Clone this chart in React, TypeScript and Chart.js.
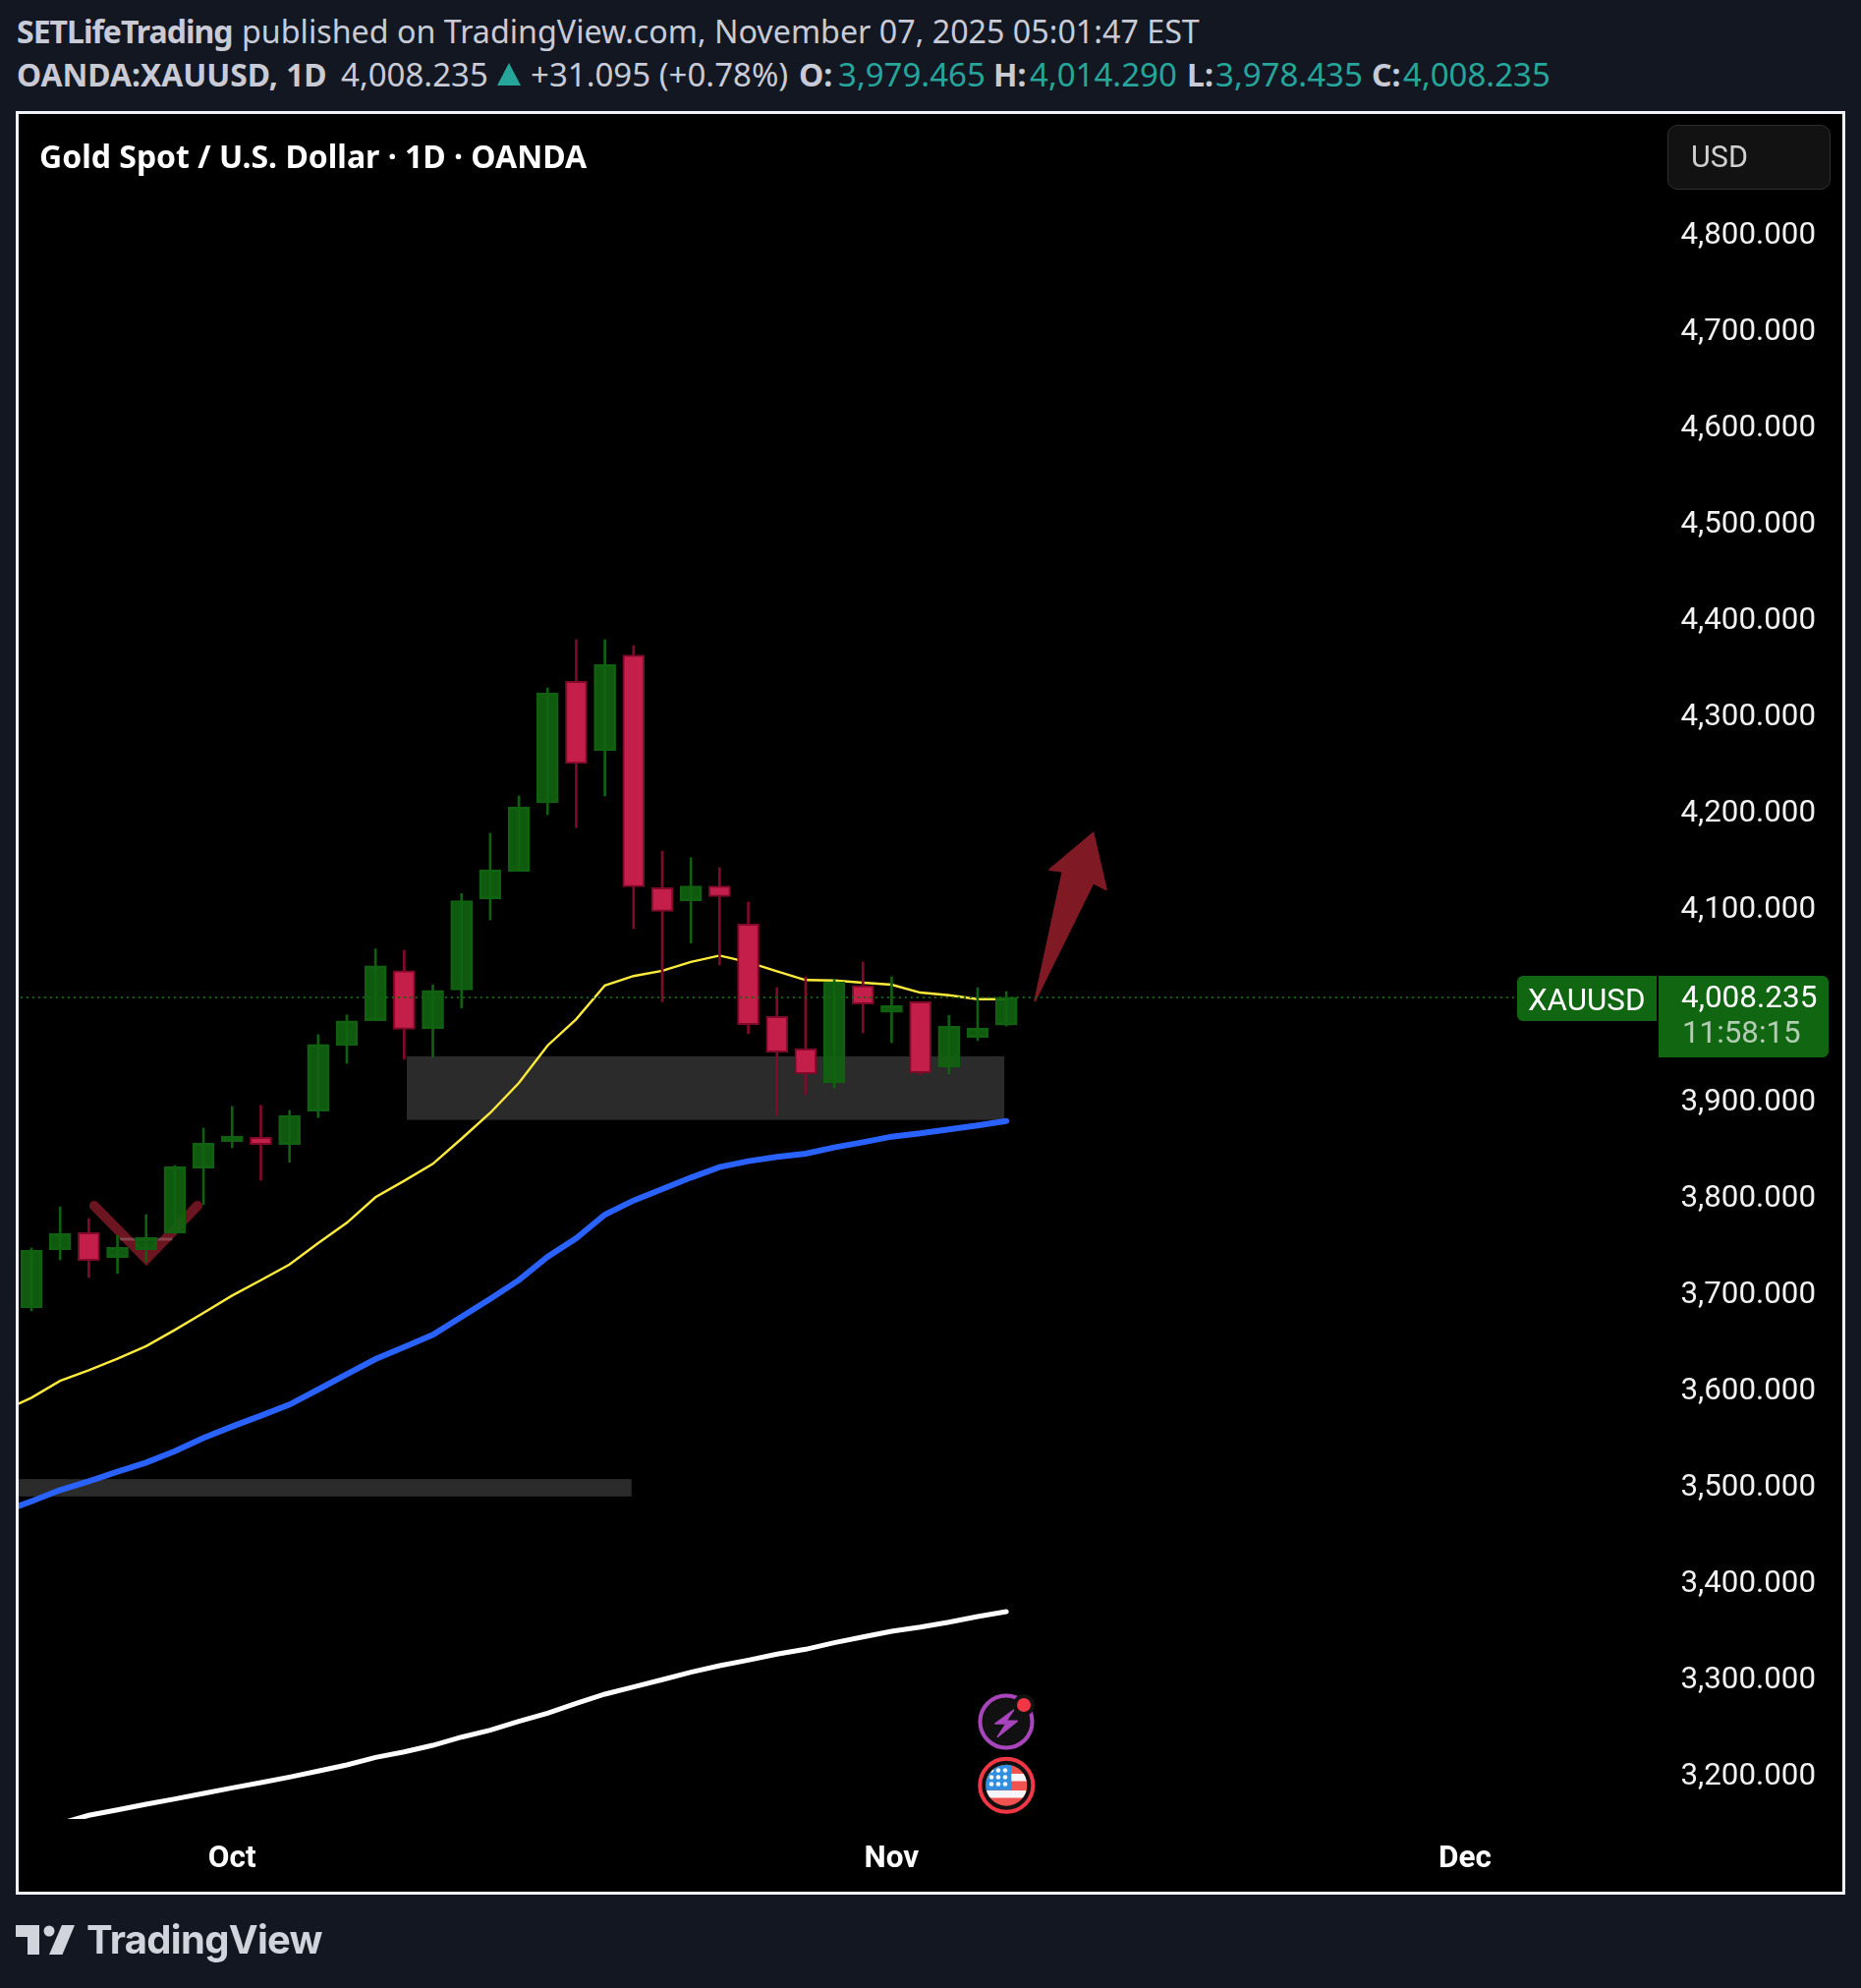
import { useEffect, useRef } from "react"
import { Chart, registerables } from "chart.js"

Chart.register(...registerables)

// candles, index 0 .. 34 (trading days, Oct 1 = 7, Nov 3 = 30, Dec 1 = 50)
const opens = [3685.7, 3746.3, 3764, 3738.1, 3746.3, 3763.6, 3831, 3858.5, 3863, 3855.5, 3890.1, 3958.2, 3984.1, 4035.9, 3975.7, 4015.8, 4110.6, 4139, 4210.4, 4336.5, 4264.3, 4363.8, 4122.2, 4108.4, 4124, 4084.3, 3988.4, 3954.8, 3919.4, 4020.4, 3992.8, 4003.7, 3935.7, 3966.7, 3979.465]
const highs = [3748, 3790.8, 3778.6, 3760.9, 3782.7, 3833.7, 3872.4, 3895, 3896, 3890.8, 3969.5, 3990, 4058.5, 4057, 4021.3, 4116, 4178.7, 4217.3, 4329.6, 4379.5, 4379.5, 4373.3, 4160.1, 4153.2, 4143, 4107.2, 4018.3, 4029.6, 4026.8, 4044.9, 4029.6, 4003.7, 3989.4, 4018.3, 4014.29]
const lows = [3682.7, 3735.7, 3717.3, 3721.4, 3733.7, 3763, 3792.9, 3852, 3818.4, 3837, 3883.5, 3939.7, 3984, 3944, 3946.2, 3997.2, 4088.7, 4139, 4198, 4184.5, 4217.3, 4079.6, 4003.8, 4064.6, 4042, 3970.5, 3885.7, 3907.1, 3914.3, 3971.4, 3961.2, 3927.5, 3928.6, 3963.3, 3978.435]
const closes = [3745.6, 3762.9, 3735, 3748.6, 3758.8, 3832.3, 3856.8, 3864.3, 3855.4, 3885.7, 3959.3, 3983.8, 4041, 3975, 4015.5, 4108.7, 4140.8, 4206, 4324.5, 4251.2, 4354, 4123, 4097.4, 4124, 4112.8, 3980, 3951.3, 3928.9, 4024.5, 4001.3, 3999.6, 3929.9, 3978.2, 3976.2, 4008.235]

// moving averages, index -1 .. 34
const fastMa = [3578.6, 3592.5, 3610, 3621, 3633, 3646, 3662.9, 3680.6, 3698.6, 3714.6, 3730.9, 3753, 3774.2, 3800.7, 3817.7, 3835.4, 3861.5, 3888.3, 3919.3, 3958.2, 3985.6, 4020.6, 4030.4, 4035.9, 4045, 4051.6, 4044.8, 4035.3, 4026.2, 4025.8, 4023.4, 4021.4, 4013.2, 4010.5, 4006.4, 4006.4]
const midMa = [3474, 3485, 3496.6, 3505.8, 3515.6, 3525.2, 3537, 3550.7, 3562.6, 3573.8, 3585.4, 3601, 3617, 3632.6, 3645.2, 3657.8, 3676.5, 3695.2, 3714.6, 3738.8, 3758.2, 3782.6, 3797.3, 3809.2, 3821.1, 3832, 3838.1, 3842.5, 3845.9, 3852.4, 3857.8, 3863.6, 3867, 3871.1, 3875.2, 3879.9]
const slowMa = [3138, 3144, 3150.4, 3158.9, 3164.6, 3170.4, 3175.9, 3181.6, 3187.4, 3192.9, 3198.6, 3204.8, 3211.2, 3219, 3224.8, 3231.6, 3240.1, 3247.3, 3256.5, 3265, 3275.2, 3284.7, 3292.2, 3299.7, 3307.5, 3314.3, 3320, 3326.2, 3331.3, 3338.1, 3344.2, 3350, 3354.4, 3359.5, 3365.3, 3370.4]

const lastPrice = 4008.235

const priceTicks = [4800, 4700, 4600, 4500, 4400, 4300, 4200, 4100, 3900, 3800, 3700, 3600, 3500, 3400, 3300, 3200]
const timeTicks = [7, 30, 50]
const timeLabels = ["Oct", "Nov", "Dec"]

// drawings, in [index, price]
const zoneBoxes = [
  [13.09, 3947, 33.93, 3881],
  [-1, 3508, 20.93, 3490],
]
const checkMark = [[2.19, 3791.8], [4.01, 3736.7], [5.79, 3791.8]]
const shortLine = [[3.08, 3757.1], [4.92, 3757.1]]
const arrowShape = [[35, 4004.8], [35.97, 4139.1], [35.51, 4140.8], [37.03, 4178.9], [37.48, 4120.4], [37.03, 4127.3]]

const UP_FILL = "rgba(17,100,17,0.9)"
const UP_LINE = "#116011"
const DOWN_FILL = "#c41e4a"
const DOWN_LINE = "#7f0a29"

const isUp = (i: number) => closes[i] >= opens[i]

const drawingsPlugin = {
  id: "drawings",
  beforeDatasetsDraw(chart: any) {
    const { ctx, chartArea, scales } = chart
    const px = (v: number) => scales.x.getPixelForValue(v)
    const py = (v: number) => scales.y.getPixelForValue(v)
    ctx.save()
    ctx.beginPath()
    ctx.rect(chartArea.left, chartArea.top, chartArea.right - chartArea.left, chartArea.bottom - chartArea.top)
    ctx.clip()

    ctx.fillStyle = "#2a2b2a"
    zoneBoxes.forEach(([x0, p0, x1, p1]) => {
      ctx.fillRect(px(x0), py(p0), px(x1) - px(x0), py(p1) - py(p0))
    })

    ctx.lineCap = "round"
    ctx.lineJoin = "miter"
    ctx.strokeStyle = "#6b1520"
    ctx.lineWidth = 10
    ctx.beginPath()
    checkMark.forEach(([x, p], i) => (i ? ctx.lineTo(px(x), py(p)) : ctx.moveTo(px(x), py(p))))
    ctx.stroke()

    ctx.strokeStyle = "rgba(255,255,255,0.2)"
    ctx.lineWidth = 3
    ctx.lineCap = "butt"
    ctx.beginPath()
    shortLine.forEach(([x, p], i) => (i ? ctx.lineTo(px(x), py(p)) : ctx.moveTo(px(x), py(p))))
    ctx.stroke()

    ctx.fillStyle = "#7f1a24"
    ctx.strokeStyle = "#7f1a24"
    ctx.lineWidth = 2
    ctx.lineJoin = "round"
    ctx.beginPath()
    arrowShape.forEach(([x, p], i) => (i ? ctx.lineTo(px(x), py(p)) : ctx.moveTo(px(x), py(p))))
    ctx.closePath()
    ctx.fill()
    ctx.stroke()
    ctx.restore()
  },
}

const text = (left: number, top: number, font: string, color: string, size: number, weight = 400) => ({
  position: "absolute" as const,
  left,
  top: top - size,
  height: size * 2,
  lineHeight: `${size * 2}px`,
  fontFamily: font,
  fontSize: size,
  fontWeight: weight,
  color,
  whiteSpace: "pre" as const,
})

const HEAD = "'Noto Sans'"
const GREY = "#c8cbd6"
const TEAL = "#26a69a"

const row2: [number, string, string, number, number][] = [
  [17, "OANDA:XAUUSD, 1D", GREY, 700, 31.8],
  [347, "4,008.235", GREY, 400, 33],
  [540, "+31.095 (+0.78%)", GREY, 400, 33],
  [813, "O:", GREY, 700, 32],
  [853, "3,979.465", TEAL, 400, 33],
  [1011, "H:", GREY, 700, 32],
  [1048, "4,014.290", TEAL, 400, 33],
  [1208, "L:", GREY, 700, 32],
  [1237, "3,978.435", TEAL, 400, 33],
  [1396, "C:", GREY, 700, 32],
  [1428, "4,008.235", TEAL, 400, 33],
]

export default function App() {
  const chartRef = useRef<HTMLCanvasElement>(null)

  useEffect(() => {
    document.body.style.margin = "0"
    document.body.style.background = "#131722"
    if (!chartRef.current) return

    const chart = new Chart(chartRef.current, {
      type: "bar",
      data: {
        datasets: [
          {
            type: "line",
            data: [{ x: -1, y: lastPrice }, { x: 58, y: lastPrice }],
            borderColor: "#116511",
            borderWidth: 2,
            borderDash: [2, 4],
            pointRadius: 0,
            order: 0,
          },
          {
            data: opens.map((o, i) => ({ x: i, y: [o, closes[i]] })),
            backgroundColor: opens.map((_, i) => (isUp(i) ? UP_FILL : DOWN_FILL)),
            borderColor: opens.map((_, i) => (isUp(i) ? UP_LINE : DOWN_LINE)),
            borderWidth: 2,
            borderSkipped: false,
            barThickness: 22,
            grouped: false,
            order: 1,
          },
          {
            data: highs.map((h, i) => ({ x: i, y: [lows[i], h] })),
            backgroundColor: opens.map((_, i) => (isUp(i) ? UP_LINE : DOWN_LINE)),
            barThickness: 2,
            grouped: false,
            order: 2,
          },
          {
            type: "line",
            data: fastMa.map((y, i) => ({ x: i - 1, y })),
            borderColor: "#ffeb3b",
            borderWidth: 2.4,
            pointRadius: 0,
            tension: 0,
            order: 3,
          },
          {
            type: "line",
            data: midMa.map((y, i) => ({ x: i - 1, y })),
            borderColor: "#2962ff",
            borderWidth: 6,
            borderCapStyle: "round",
            pointRadius: 0,
            tension: 0,
            order: 4,
          },
          {
            type: "line",
            data: slowMa.map((y, i) => ({ x: i - 1, y })),
            borderColor: "#ffffff",
            borderWidth: 5,
            borderCapStyle: "round",
            pointRadius: 0,
            tension: 0,
            order: 5,
          },
        ],
      } as any,
      options: {
        responsive: false,
        animation: false,
        layout: { padding: { left: 19, top: 116, right: 46, bottom: 98 } },
        plugins: { legend: { display: false }, tooltip: { enabled: false } },
        scales: {
          x: {
            type: "linear",
            offset: false,
            min: -0.4455,
            max: 57.16,
            grid: { display: false },
            border: { display: false },
            afterFit: (axis: any) => {
              axis.height = 74
            },
            afterBuildTicks: (axis: any) => {
              axis.ticks = timeTicks.map((value) => ({ value }))
            },
            ticks: {
              autoSkip: false,
              maxRotation: 0,
              padding: 14,
              color: "#ffffff",
              font: { family: "Roboto", size: 31.5, weight: "bold" },
              callback: (v: any) => timeLabels[timeTicks.indexOf(v)],
            },
          },
          y: {
            type: "linear",
            position: "right",
            min: 3155.1,
            max: 4925.5,
            grid: { display: false, drawTicks: false },
            border: { display: false },
            afterFit: (axis: any) => {
              axis.width = 148
            },
            afterBuildTicks: (axis: any) => {
              axis.ticks = priceTicks.map((value) => ({ value }))
            },
            ticks: {
              autoSkip: false,
              padding: 0,
              labelOffset: 1,
              crossAlign: "far",
              color: "#f2f2f2",
              font: { family: "Roboto", size: 31.3 },
              callback: (v: any) => v.toLocaleString("en-US", { minimumFractionDigits: 3 }),
            },
          },
        },
      } as any,
      plugins: [drawingsPlugin],
    })

    return () => chart.destroy()
  }, [])

  return (
    <div style={{ position: "relative", width: 1894, height: 2023, overflow: "hidden", background: "#131722" }}>
      <div style={{ ...text(17, 32, HEAD, GREY, 32, 700), letterSpacing: -1 }}>SETLifeTrading</div>
      <div style={text(246, 32, HEAD, GREY, 32.25)}>published on TradingView.com, November 07, 2025 05:01:47 EST</div>
      {row2.map(([left, label, color, weight, size]) => (
        <div key={left} style={text(left, 76, HEAD, color, size, weight)}>{label}</div>
      ))}
      <svg style={{ position: "absolute", left: 0, top: 0 }} width={560} height={100}>
        <polygon points="506,87 518,64 530,87" fill={TEAL} />
      </svg>

      <div style={{ position: "absolute", left: 16, top: 113, width: 1856, height: 1809, border: "3px solid #f0f3fa", background: "#000" }} />
      <canvas ref={chartRef} width={1894} height={2023} style={{ position: "absolute", left: 0, top: 0 }} />

      <div style={text(40, 159, HEAD, "#ffffff", 32, 700)}>Gold Spot / U.S. Dollar · 1D · OANDA</div>

      <div style={{ position: "absolute", left: 1697, top: 127, width: 164, height: 64, borderRadius: 10, background: "#121212", border: "1px solid #2e2e2e" }} />
      <div style={text(1721, 159, "Roboto", "#d0d0d0", 30.5)}>USD</div>

      <div style={{ position: "absolute", left: 1544, top: 993, width: 142, height: 46, background: "#116611", borderRadius: "6px 0 0 6px" }} />
      <div style={{ position: "absolute", left: 1688, top: 993, width: 173, height: 83, background: "#116611", borderRadius: "0 6px 6px 0" }} />
      <div style={text(1555, 1018, "Roboto", "#ffffff", 31.3)}>XAUUSD</div>
      <div style={text(1711, 1014, "Roboto", "#ffffff", 31.5)}>4,008.235</div>
      <div style={text(1712, 1051, "Roboto", "rgba(255,255,255,0.68)", 31.3)}>11:58:15</div>

      <svg style={{ position: "absolute", left: 980, top: 1710 }} width={90} height={150} viewBox="980 1710 90 150">
        <circle cx={1024} cy={1752} r={29} fill="#111" />
        <circle cx={1024} cy={1752} r={26.5} fill="none" stroke="#a844bc" strokeWidth={4} />
        <polygon points="1031.7,1740 1012.7,1754 1024,1754 1015.3,1767.3 1035.3,1751.3 1024,1751.3" fill="#a844bc" stroke="#a844bc" strokeWidth={1.5} strokeLinejoin="round" />
        <circle cx={1042} cy={1735} r={11} fill="#111" />
        <circle cx={1042} cy={1735} r={7} fill="#f23645" />
        <circle cx={1024.3} cy={1816.7} r={27} fill="#111" stroke="#f23645" strokeWidth={4} />
        <clipPath id="flag"><circle cx={1024.3} cy={1816.7} r={21} /></clipPath>
        <g clipPath="url(#flag)">
          <rect x={1003} y={1795} width={43} height={43} fill="#f05350" />
          <rect x={1003} y={1805} width={43} height={7.5} fill="#f5f5fa" />
          <rect x={1003} y={1822} width={43} height={7.5} fill="#f5f5fa" />
          <rect x={1003} y={1795} width={26.3} height={26.7} fill="#2f8fe0" />
          {[1009, 1016, 1023].map((cx) =>
            [1801.5, 1808.5, 1815.5].map((cy) => <circle key={`${cx}-${cy}`} cx={cx} cy={cy} r={2.3} fill="#f5f5fa" />),
          )}
        </g>
      </svg>

      <svg style={{ position: "absolute", left: 16, top: 1959 }} width={62} height={32}>
        <polygon points="0,0 24,0 24,30 12,30 12,12 0,12" fill="#d1d4dc" />
        <circle cx={34} cy={6} r={5.5} fill="#d1d4dc" />
        <polygon points="47,0 60,0 47.5,30 34,30" fill="#d1d4dc" />
      </svg>
      <div style={{ ...text(88, 1974, "Inter", "#d1d4dc", 40, 700), letterSpacing: -0.7 }}>TradingView</div>
    </div>
  )
}
